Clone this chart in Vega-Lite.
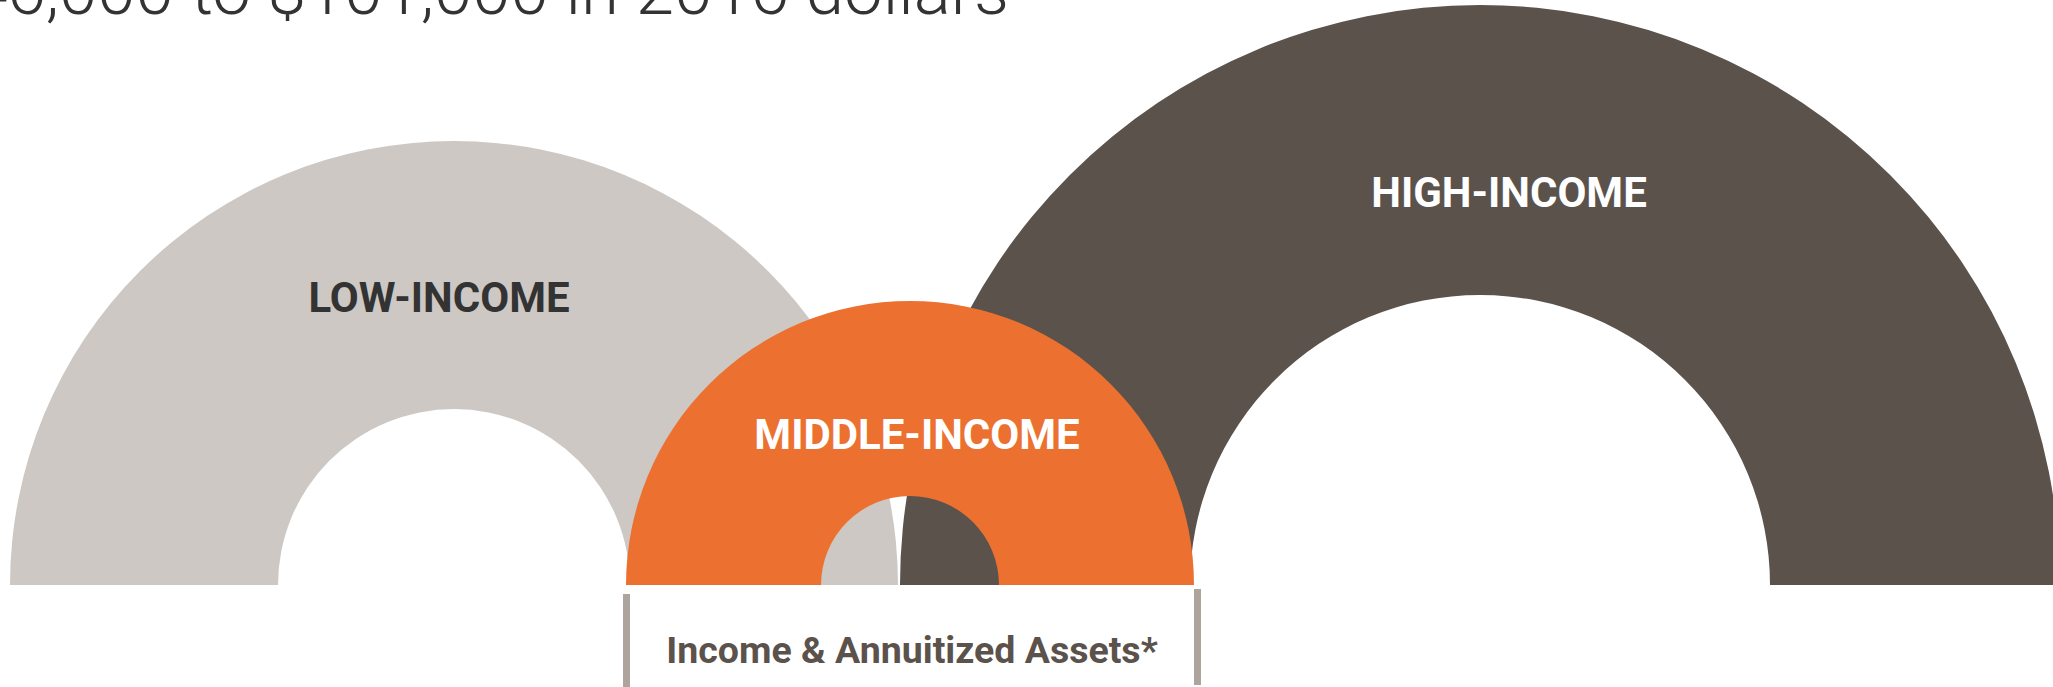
{
  "$schema": "https://vega.github.io/schema/vega-lite/v6.json",
  "autosize": "none",
  "width": 2053,
  "height": 687,
  "padding": 0,
  "background": "white",
  "config": {"view": {"stroke": null}},
  "layer": [
    {
      "data": {"values": [
        {"group": "Low-income", "cx": 45.4, "base": 10.2, "r_out": 44.4, "r_in": 17.6, "t0": 0, "t1": 1},
        {"group": "High-income", "cx": 148.0, "base": 10.2, "r_out": 58.0, "r_in": 29.0, "t0": 0, "t1": 1},
        {"group": "Middle-income", "cx": 91.0, "base": 10.2, "r_out": 28.4, "r_in": 8.9, "t0": 0, "t1": 1}
      ]},
      "mark": {"type": "arc"},
      "encoding": {
        "x": {"field": "cx", "type": "quantitative", "scale": {"domain": [0, 205.3], "nice": false, "zero": false}, "axis": null},
        "y": {"field": "base", "type": "quantitative", "scale": {"domain": [0, 68.7], "nice": false, "zero": false}, "axis": null},
        "theta": {"field": "t0", "type": "quantitative", "stack": null, "scale": {"domain": [0, 1], "range": [-1.5708, 1.5708]}},
        "theta2": {"field": "t1"},
        "radius": {"field": "r_out", "type": "quantitative", "scale": {"type": "linear", "domain": [0, 68.7], "range": [0, 687], "zero": true, "nice": false}},
        "radius2": {"field": "r_in"},
        "color": {"field": "group", "type": "nominal", "legend": null,
          "scale": {"domain": ["Low-income", "Middle-income", "High-income"], "range": ["#cdc8c4", "#ec7130", "#5b524c"]}}
      }
    },
    {
      "data": {"values": [
        {"group": "Low-income", "label": "LOW-INCOME", "lx": 43.9, "ly": 37.5},
        {"group": "Middle-income", "label": "MIDDLE-INCOME", "lx": 91.7, "ly": 23.8},
        {"group": "High-income", "label": "HIGH-INCOME", "lx": 150.9, "ly": 48.0}
      ]},
      "mark": {"type": "text", "font": "Roboto", "fontWeight": "bold", "fontSize": 42, "align": "center", "baseline": "alphabetic"},
      "encoding": {
        "x": {"field": "lx", "type": "quantitative"},
        "y": {"field": "ly", "type": "quantitative"},
        "text": {"field": "label"},
        "color": {"condition": {"test": "datum.group === 'Low-income'", "value": "#333333"}, "value": "#ffffff"}
      }
    },
    {
      "data": {"values": [
        {"side": "left", "bx": 62.65, "y0": 0, "y1": 9.3},
        {"side": "right", "bx": 119.75, "y0": 0.2, "y1": 9.8}
      ]},
      "mark": {"type": "rule", "strokeWidth": 7, "color": "#aca49d"},
      "encoding": {
        "x": {"field": "bx", "type": "quantitative"},
        "y": {"field": "y0", "type": "quantitative"},
        "y2": {"field": "y1"}
      }
    },
    {
      "data": {"values": [
        {"kind": "caption", "text": "Income & Annuitized Assets*", "tx": 91.2, "ty": 2.45}
      ]},
      "mark": {"type": "text", "font": "Roboto", "fontWeight": "bold", "fontSize": 37.5, "align": "center", "baseline": "alphabetic", "color": "#5b524c"},
      "encoding": {
        "x": {"field": "tx", "type": "quantitative"},
        "y": {"field": "ty", "type": "quantitative"},
        "text": {"field": "text"}
      }
    },
    {
      "data": {"values": [
        {"kind": "title", "text": "Middle income: $46,000 to $101,000 in 2016 dollars", "tx": 100.9, "ty": 67.35}
      ]},
      "mark": {"type": "text", "font": "Roboto", "fontWeight": 300, "fontSize": 69, "align": "right", "baseline": "alphabetic", "color": "#333333"},
      "encoding": {
        "x": {"field": "tx", "type": "quantitative"},
        "y": {"field": "ty", "type": "quantitative"},
        "text": {"field": "text"}
      }
    }
  ]
}
